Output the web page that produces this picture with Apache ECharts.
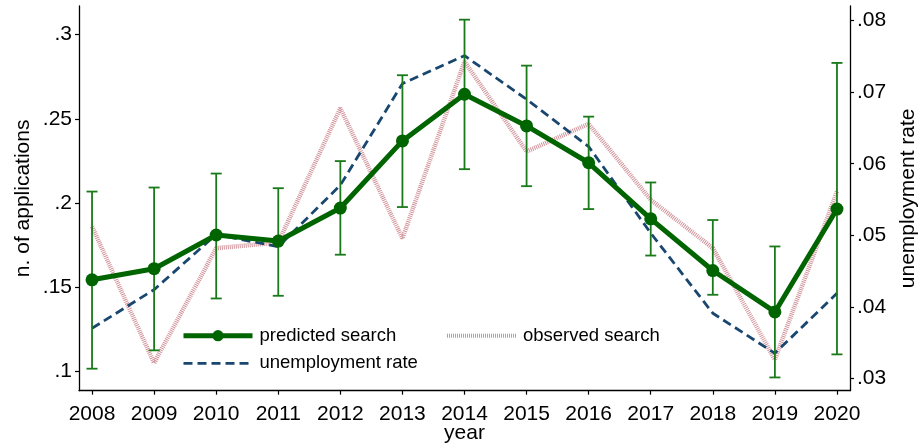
<!DOCTYPE html>
<html>
<head>
<meta charset="utf-8">
<script src="https://cdn.jsdelivr.net/npm/echarts@6/dist/echarts.min.js"></script>
<style>
html,body{margin:0;padding:0;background:#fff;}
#chart{width:919px;height:446px;}
</style>
</head>
<body>
<div id="chart"></div>
<script>
// data
var years = [2008, 2009, 2010, 2011, 2012, 2013, 2014, 2015, 2016, 2017, 2018, 2019, 2020];
var predicted = [0.1544, 0.161, 0.181, 0.1774, 0.197, 0.2369, 0.2646, 0.2458, 0.2239, 0.1906, 0.1599, 0.1353, 0.1964];
var ciLow = [0.1016, 0.1125, 0.1433, 0.1449, 0.1693, 0.1976, 0.2201, 0.21, 0.1964, 0.1688, 0.1455, 0.0964, 0.1101];
var ciHigh = [0.2068, 0.2092, 0.2175, 0.2088, 0.2249, 0.2759, 0.3089, 0.2816, 0.2513, 0.2122, 0.1899, 0.1742, 0.2832];
var observed = [0.186, 0.105, 0.1732, 0.1765, 0.2563, 0.179, 0.284, 0.2306, 0.247, 0.2019, 0.1732, 0.107, 0.2068];
var unemp = [0.037, 0.0424, 0.0501, 0.0484, 0.057, 0.0712, 0.0751, 0.069, 0.0624, 0.0503, 0.0391, 0.0335, 0.0419];
var leftTicks = [0.1, 0.15, 0.2, 0.25, 0.3];
var rightTicks = [0.03, 0.04, 0.05, 0.06, 0.07, 0.08];

var font = "'Liberation Sans', Arial, sans-serif";
var dkgreen = '#006400';
var barGreen = '#1a7a1a';
var navy = '#1a476f';
var pink = '#d0939a';

function pair(a, b) {
    return years.map(function (y, i) { return [y, a[i], b ? b[i] : undefined]; });
}
function dotLabel(v) {
    return String(+v.toFixed(3)).replace(/^0\./, '.');
}

var chart = echarts.init(document.getElementById('chart'));
var axisLine = {show: true, lineStyle: {color: '#000', width: 1.3}};
var axisTick = {show: true, length: 4, lineStyle: {color: '#000', width: 1.2}};
var legendText = {fontFamily: font, fontSize: 18.5, color: '#000', lineHeight: 20, padding: [0, 0, 0, 2]};

chart.setOption({
    animation: false,
    grid: {left: 79, right: 69, top: 6, bottom: 55.3, outerBoundsMode: 'none', containLabel: false},
    legend: [
        {
            data: [
                {name: 'predicted search', lineStyle: {width: 5, color: dkgreen}, itemStyle: {color: dkgreen}},
                {name: 'unemployment rate', lineStyle: {width: 2.8, color: navy, type: [9, 5]}, itemStyle: {opacity: 0}}
            ],
            orient: 'vertical', left: 181, top: 325.7, padding: 0,
            itemWidth: 69, itemHeight: 14, itemGap: 7.6,
            textStyle: legendText
        },
        {
            data: [
                {name: 'observed search', lineStyle: {width: 4, color: pink, type: [1, 1]}, itemStyle: {opacity: 0}}
            ],
            orient: 'vertical', left: 445, top: 325.7, padding: 0,
            itemWidth: 69, itemHeight: 14,
            textStyle: legendText
        }
    ],
    xAxis: {
        type: 'value', min: 2007.79, max: 2020.21,
        name: 'year', nameLocation: 'middle', nameGap: 32, nameMoveOverlap: false,
        nameTextStyle: {fontFamily: font, fontSize: 21, color: '#000'},
        axisLine: axisLine,
        axisTick: Object.assign({customValues: years}, axisTick),
        axisLabel: {customValues: years, margin: 13, fontFamily: font, fontSize: 21, color: '#000',
            formatter: function (v) { return String(v); }},
        splitLine: {show: false}
    },
    yAxis: [
        {
            type: 'value', min: 0.08853, max: 0.31701, position: 'left',
            name: 'n. of applications', nameLocation: 'middle', nameRotate: 90, nameGap: 45, nameMoveOverlap: false,
            nameTextStyle: {fontFamily: font, fontSize: 21, color: '#000'},
            axisLine: axisLine,
            axisTick: Object.assign({customValues: leftTicks}, axisTick),
            axisLabel: {customValues: leftTicks, margin: 7, fontFamily: font, fontSize: 21, color: '#000', formatter: dotLabel},
            splitLine: {show: false}
        },
        {
            type: 'value', min: 0.02827, max: 0.08205, position: 'right',
            name: 'unemployment rate', nameLocation: 'middle', nameRotate: 90, nameGap: 47.5, nameMoveOverlap: false,
            nameTextStyle: {fontFamily: font, fontSize: 21, color: '#000'},
            axisLine: axisLine,
            axisTick: Object.assign({customValues: rightTicks}, axisTick),
            axisLabel: {customValues: rightTicks, margin: 7, fontFamily: font, fontSize: 21, color: '#000', formatter: dotLabel},
            splitLine: {show: false}
        }
    ],
    series: [
        {
            name: 'observed search', type: 'line', yAxisIndex: 0,
            data: pair(observed), symbol: 'none',
            lineStyle: {color: pink, width: 4.5, type: [1, 1], cap: 'butt'},
            itemStyle: {color: pink}, z: 1
        },
        {
            name: 'unemployment rate', type: 'line', yAxisIndex: 1,
            data: pair(unemp), symbol: 'none',
            lineStyle: {color: navy, width: 2.8, type: [9, 5]},
            itemStyle: {color: navy}, z: 2
        },
        {
            name: 'ci', type: 'custom', yAxisIndex: 0,
            data: pair(ciLow, ciHigh),
            renderItem: function (params, api) {
                var x = api.value(0);
                var lo = api.coord([x, api.value(1)]);
                var hi = api.coord([x, api.value(2)]);
                var w = 5.5;
                var st = {stroke: barGreen, lineWidth: 1.8};
                return {
                    type: 'group',
                    children: [
                        {type: 'line', shape: {x1: lo[0], y1: lo[1], x2: hi[0], y2: hi[1]}, style: st},
                        {type: 'line', shape: {x1: hi[0] - w, y1: hi[1], x2: hi[0] + w, y2: hi[1]}, style: st},
                        {type: 'line', shape: {x1: lo[0] - w, y1: lo[1], x2: lo[0] + w, y2: lo[1]}, style: st}
                    ]
                };
            },
            z: 3
        },
        {
            name: 'predicted search', type: 'line', yAxisIndex: 0,
            data: pair(predicted), symbol: 'circle', symbolSize: 13, showAllSymbol: true,
            lineStyle: {color: dkgreen, width: 5},
            itemStyle: {color: dkgreen}, z: 4
        }
    ]
});
</script>
</body>
</html>
